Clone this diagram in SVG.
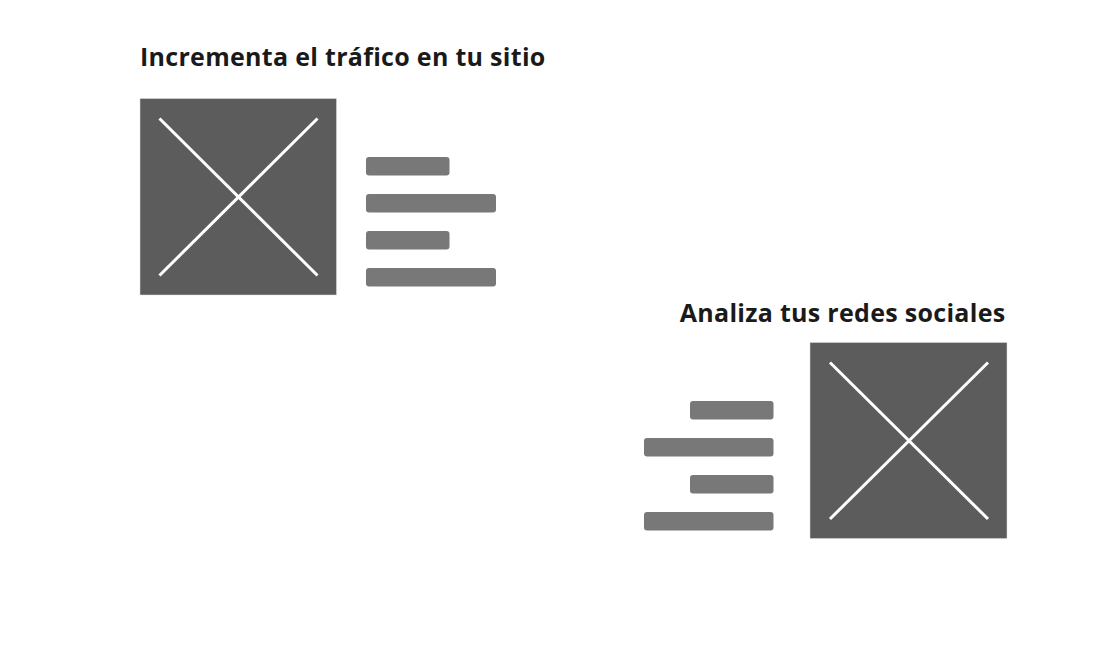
<svg xmlns="http://www.w3.org/2000/svg" width="1115" height="650" viewBox="0 0 1115 650">
<style>
.bg{fill:#ffffff}
.title{font-family:"Open Sans","Noto Sans",sans-serif;font-weight:700;font-size:25px;letter-spacing:0.3px;fill:#1a1a1a}
.img{fill:#5c5c5c;stroke:#e0e0e0;stroke-width:0.5}
.x{stroke:#ffffff;stroke-width:3;stroke-linecap:butt}
.bar{fill:#787878}
</style>
<rect class="bg" width="1115" height="650"/>
<g id="block1">
<text class="title" x="140" y="65.5">Incrementa el tráfico en tu sitio</text>
<rect class="img" x="140" y="98.5" width="196.5" height="196.5"/>
<line class="x" x1="159.5" y1="118.5" x2="317.5" y2="275.5"/>
<line class="x" x1="317.5" y1="118.5" x2="159.5" y2="275.5"/>
<rect class="bar" x="366" y="157" width="83.5" height="18.5" rx="3"/>
<rect class="bar" x="366" y="194" width="130" height="18.5" rx="3"/>
<rect class="bar" x="366" y="231" width="83.5" height="18.5" rx="3"/>
<rect class="bar" x="366" y="268" width="130" height="18.5" rx="3"/>
</g>
<g id="block2">
<text class="title" x="1005.5" y="322" text-anchor="end">Analiza tus redes sociales</text>
<rect class="img" x="810" y="342.5" width="197" height="196"/>
<line class="x" x1="830" y1="362.5" x2="988" y2="519"/>
<line class="x" x1="988" y1="362.5" x2="830" y2="519"/>
<rect class="bar" x="690" y="401" width="83.5" height="18.5" rx="3"/>
<rect class="bar" x="644" y="438" width="129.5" height="18.5" rx="3"/>
<rect class="bar" x="690" y="475" width="83.5" height="18.5" rx="3"/>
<rect class="bar" x="644" y="512" width="129.5" height="18.5" rx="3"/>
</g>
<g id="connectors"></g>
</svg>
